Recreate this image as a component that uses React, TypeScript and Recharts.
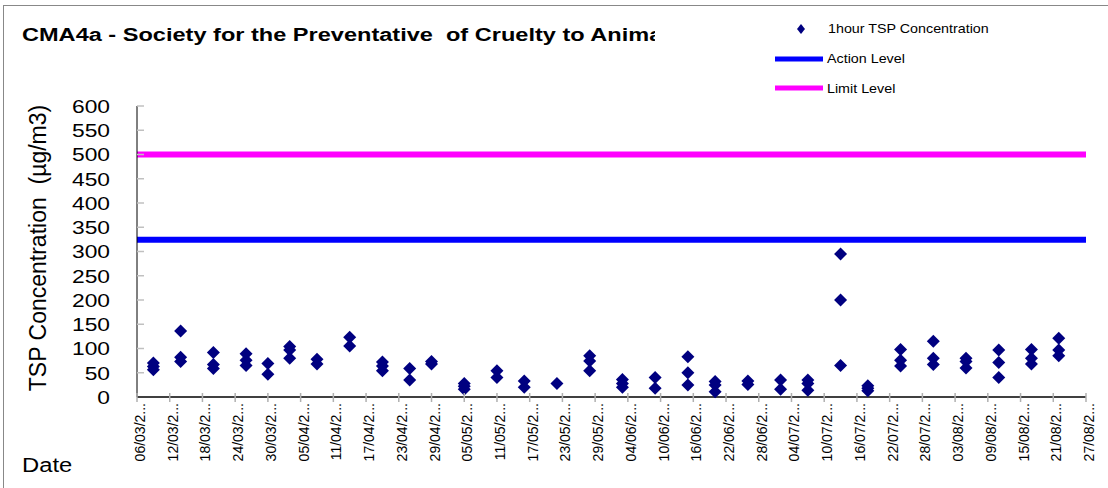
import { ScatterChart, Scatter, XAxis, YAxis, ReferenceLine } from 'recharts';

// sampling dates (dd/mm) and measured 1-hour TSP values, one entry per point
const sampleDates = [
  '09/03', '09/03', '09/03', '14/03', '14/03', '14/03', '20/03', '20/03', '20/03',
  '26/03', '26/03', '26/03', '30/03', '30/03', '03/04', '03/04', '03/04',
  '08/04', '08/04', '14/04', '14/04', '20/04', '20/04', '20/04', '25/04', '25/04',
  '29/04', '29/04', '05/05', '05/05', '05/05', '11/05', '11/05', '16/05', '16/05',
  '22/05', '28/05', '28/05', '28/05', '03/06', '03/06', '03/06', '09/06', '09/06',
  '15/06', '15/06', '15/06', '20/06', '20/06', '20/06', '26/06', '26/06',
  '02/07', '02/07', '07/07', '07/07', '07/07', '13/07', '13/07', '13/07',
  '18/07', '18/07', '18/07', '24/07', '24/07', '24/07', '30/07', '30/07', '30/07',
  '05/08', '05/08', '05/08', '11/08', '11/08', '11/08', '17/08', '17/08', '17/08',
  '22/08', '22/08', '22/08',
];
const tspValues = [
  70, 63, 56, 136, 82, 73, 92, 67, 59,
  89, 76, 65, 69, 47, 104, 97, 80,
  78, 68, 123, 105, 72, 64, 54, 59, 35,
  73, 68, 28, 22, 16, 54, 40, 33, 20,
  28, 85, 74, 54, 36, 28, 20, 40, 18,
  83, 50, 25, 32, 25, 11, 33, 26,
  35, 16, 35, 28, 14, 295, 200, 65,
  23, 18, 13, 98, 76, 64, 115, 80, 67,
  80, 73, 60, 97, 71, 40, 98, 80, 68,
  121, 97, 85,
];

const tickDates = [
  '06/03', '12/03', '18/03', '24/03', '30/03', '05/04', '11/04', '17/04', '23/04', '29/04',
  '05/05', '11/05', '17/05', '23/05', '29/05', '04/06', '10/06', '16/06', '22/06', '28/06',
  '04/07', '10/07', '16/07', '22/07', '28/07', '03/08', '09/08', '15/08', '21/08', '27/08',
];
const yTicks = [0, 50, 100, 150, 200, 250, 300, 350, 400, 450, 500, 550, 600];

const ACTION_LEVEL = 324;
const LIMIT_LEVEL = 500;

const FONT = '"Liberation Sans", Arial, sans-serif';

function toDay(dm: string) {
  const [d, m] = dm.split('/').map(Number);
  return Math.round((Date.UTC(2021, m - 1, d) - Date.UTC(2021, 2, 6)) / 86400000);
}

const data = sampleDates.map((d, i) => ({ day: toDay(d), tsp: tspValues[i] }));
const xTicks = tickDates.map(toDay);
const labelFor: Record<number, string> = {};
tickDates.forEach((d) => {
  labelFor[toDay(d)] = `${d}/2...`;
});

const Diamond = (props: any) => {
  const { cx, cy } = props;
  const r = 6.5;
  return (
    <polygon
      points={`${cx},${cy - r} ${cx + r},${cy} ${cx},${cy + r} ${cx - r},${cy}`}
      fill="#000080"
    />
  );
};

const XTick = (props: any) => {
  const { x, y, payload } = props;
  return (
    <g>
      <line x1={x} y1={y - 4} x2={x} y2={y + 5} stroke="#b0b0b0" strokeWidth={1.5} />
      <text
        transform={`translate(${x + 8},${y + 6}) rotate(-90)`}
        textAnchor="end"
        fontSize={14}
        fontFamily={FONT}
        fill="#000"
      >
        {labelFor[payload.value]}
      </text>
    </g>
  );
};

const YTick = (props: any) => {
  const { x, y, payload } = props;
  return (
    <g>
      {payload.value > 0 && (
        <line x1={x} y1={y} x2={x + 7} y2={y} stroke="#c0c0c0" strokeWidth={1.5} />
      )}
      <text
        transform={`translate(${x - 27},${y}) scale(1.2,1)`}
        dy="0.36em"
        textAnchor="end"
        fontSize={19}
        fontFamily={FONT}
        fill="#000"
      >
        {payload.value}
      </text>
    </g>
  );
};

export default function App() {
  return (
    <div style={{ position: 'fixed', left: 0, top: 0, width: 1108, height: 488, background: '#fff' }}>
      <div
        style={{
          position: 'absolute',
          left: 3,
          top: 5,
          right: 0,
          bottom: 0,
          borderTop: '1px solid #888',
          borderLeft: '1px solid #888',
        }}
      />
      <div style={{ position: 'absolute', left: 0, top: 0 }}>
        <ScatterChart width={1108} height={488} margin={{ top: 106, right: 22, bottom: 0, left: 0 }}>
          <XAxis
            type="number"
            dataKey="day"
            domain={[0, 174]}
            ticks={xTicks}
            interval={0}
            height={91}
            tickSize={0}
            tickMargin={0}
            tickLine={false}
            axisLine={{ stroke: '#000', strokeWidth: 1.5 }}
            tick={<XTick />}
          />
          <YAxis
            type="number"
            dataKey="tsp"
            domain={[0, 600]}
            ticks={yTicks}
            interval={0}
            width={137}
            tickSize={0}
            tickMargin={0}
            tickLine={false}
            axisLine={{ stroke: '#000', strokeWidth: 1 }}
            tick={<YTick />}
          />
          <ReferenceLine y={LIMIT_LEVEL} stroke="#ff00ff" strokeWidth={6} />
          <ReferenceLine y={ACTION_LEVEL} stroke="#0000ff" strokeWidth={6} />
          <Scatter data={data} shape={<Diamond />} isAnimationActive={false} />
        </ScatterChart>
      </div>
      <svg
        width={1108}
        height={488}
        style={{ position: 'absolute', left: 0, top: 0, pointerEvents: 'none' }}
      >
        <defs>
          <clipPath id="titleClip">
            <rect x={0} y={0} width={655} height={60} />
          </clipPath>
        </defs>
        <g clipPath="url(#titleClip)">
          <text
            transform="translate(22,41) scale(1.24,1)"
            fontSize={19}
            fontWeight="bold"
            fontFamily={FONT}
            style={{ whiteSpace: 'pre' }}
          >
            CMA4a - Society for the Preventative  of Cruelty to Animals
          </text>
        </g>
        <text
          transform="translate(46,248) rotate(-90)"
          textAnchor="middle"
          fontSize={23}
          fontFamily={FONT}
          style={{ whiteSpace: 'pre' }}
        >
          TSP Concentration  (µg/m3)
        </text>
        <text transform="translate(22,472) scale(1.19,1)" fontSize={20} fontFamily={FONT}>
          Date
        </text>
        <polygon points="801,24 805,29 801,34 797,29" fill="#000080" />
        <text transform="translate(828,33) scale(1.1,1)" fontSize={13} fontFamily={FONT}>
          1hour TSP Concentration
        </text>
        <line x1={775} y1={59} x2={823} y2={59} stroke="#0000ff" strokeWidth={5} />
        <text transform="translate(827,63) scale(1.1,1)" fontSize={13} fontFamily={FONT}>
          Action Level
        </text>
        <line x1={775} y1={88} x2={823} y2={88} stroke="#ff00ff" strokeWidth={5} />
        <text transform="translate(827,93) scale(1.1,1)" fontSize={13} fontFamily={FONT}>
          Limit Level
        </text>
      </svg>
    </div>
  );
}
